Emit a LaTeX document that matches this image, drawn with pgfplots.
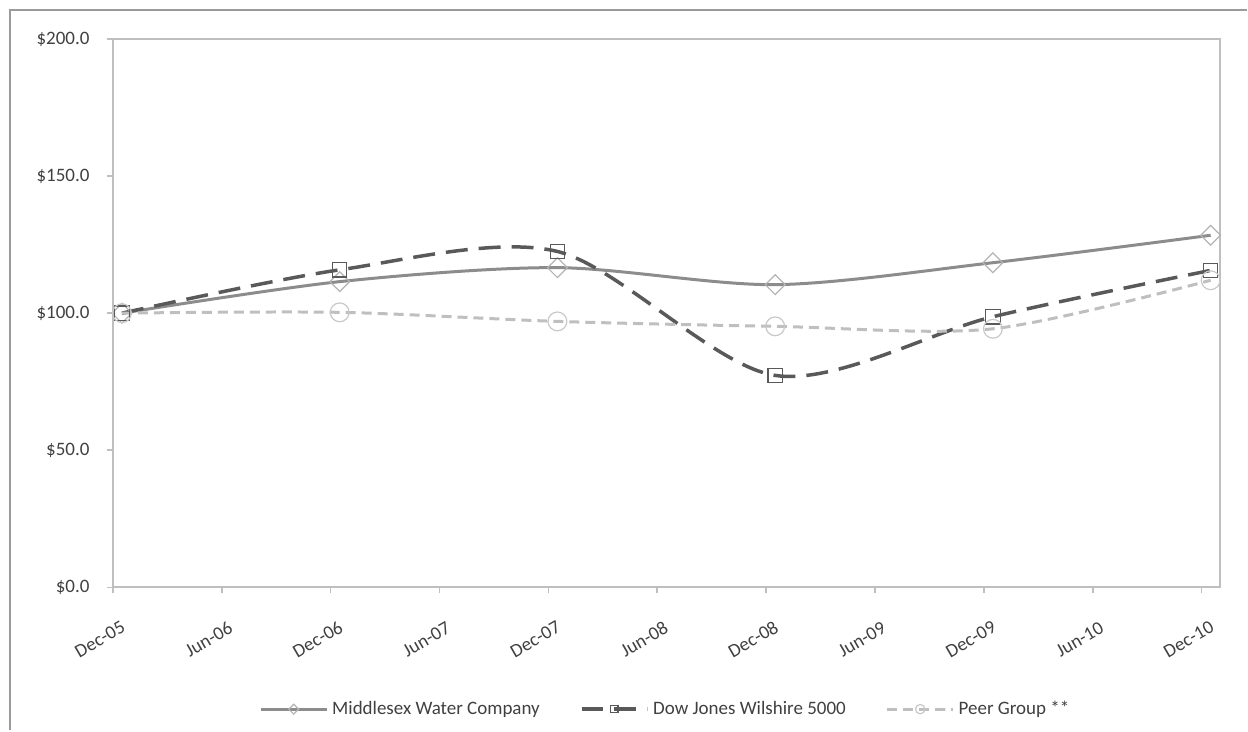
\documentclass[border=0pt]{standalone}
\usepackage{fontspec}
\setmainfont{Carlito}
\usepackage{pgfplots}
\pgfplotsset{compat=1.18}
\definecolor{boxgray}{HTML}{BFBFBF}
\definecolor{framegray}{HTML}{9A9A9A}
\definecolor{txt}{HTML}{404040}
\definecolor{mwc}{HTML}{8C8C8C}
\definecolor{mwcmark}{HTML}{B4B4B4}
\definecolor{dj}{HTML}{595959}
\definecolor{peer}{HTML}{BFBFBF}
\definecolor{peermark}{HTML}{C8C8C8}
\begin{document}
\begin{tikzpicture}
  \begin{axis}[%
      scale only axis,
      width=554pt, height=274.5pt,
      xmin=0, xmax=61, ymin=0, ymax=200,
      clip=false,
      axis line style={boxgray, line width=1pt},
      tick pos=left,
      tick align=outside,
      major tick length=3pt,
      every tick/.style={boxgray, line width=0.8pt},
      xtick={0,6,...,60},
      xticklabels={Dec-05,Jun-06,Dec-06,Jun-07,Dec-07,Jun-08,Dec-08,Jun-09,Dec-09,Jun-10,Dec-10},
      ytick={0,50,...,200},
      yticklabels={\$0.0,\$50.0,\$100.0,\$150.0,\$200.0},
      tick label style={font=\fontsize{9.5}{11}\selectfont, text=txt},
      yticklabel style={anchor=east, inner sep=0pt, xshift=-8.5pt},
      xticklabel style={anchor=center, inner sep=0pt, xshift=-6.5pt, yshift=-23pt, rotate=30},
      legend columns=3,
      legend style={at={(0.5,-0.222)}, anchor=center, draw=none,
        font=\fontsize{9.5}{11}\selectfont, text=txt,
        /tikz/every even column/.append style={column sep=18pt}},
      legend image code/.code={%
        \draw[mark repeat=2, mark phase=2, /tikz/every mark/.append style={scale=0.5}]
          plot coordinates {(0cm,0cm) (0.58cm,0cm) (1.16cm,0cm)};},
    ]
    % Middlesex Water Company
    \addplot[mwc, line width=1.5pt, smooth, tension=0.5,
      mark=square, mark size=3.5pt,
      mark options={solid, rotate=45, draw=mwcmark, line width=0.6pt, fill=none}]
      coordinates {
        (0.5, 100) (12.5, 111.5) (24.5, 116.6) (36.5, 110.4) (48.5, 118.4) (60.5, 128.4)
      };
    % Dow Jones Wilshire 5000
    \addplot[dj, line width=1.75pt, smooth, tension=0.5, dash pattern=on 11pt off 5.5pt,
      mark=square, mark size=3.6pt,
      mark options={solid, draw=dj, line width=0.6pt, fill=none}]
      coordinates {
        (0.5, 100) (12.5, 115.8) (24.5, 122.5) (36.5, 77.3) (48.5, 98.7) (60.5, 115.6)
      };
    % Peer Group
    \addplot[peer, line width=1.5pt, smooth, tension=0.5, dash pattern=on 5pt off 3pt,
      mark=o, mark size=4.7pt,
      mark options={solid, draw=peermark, line width=0.6pt, fill=none}]
      coordinates {
        (0.5, 100) (12.5, 100.3) (24.5, 97.0) (36.5, 95.2) (48.5, 94.3) (60.5, 112.0)
      };
    \legend{Middlesex Water Company, Dow Jones Wilshire 5000, Peer Group **}
  \end{axis}
  \draw[framegray, line width=1pt] (-51.5pt,-71.5pt) -- (-51.5pt,289pt) -- (567.65pt,289pt);
  \path[use as bounding box] (-56.5pt,-71.5pt) rectangle (567.65pt,294pt);
\end{tikzpicture}
\end{document}
